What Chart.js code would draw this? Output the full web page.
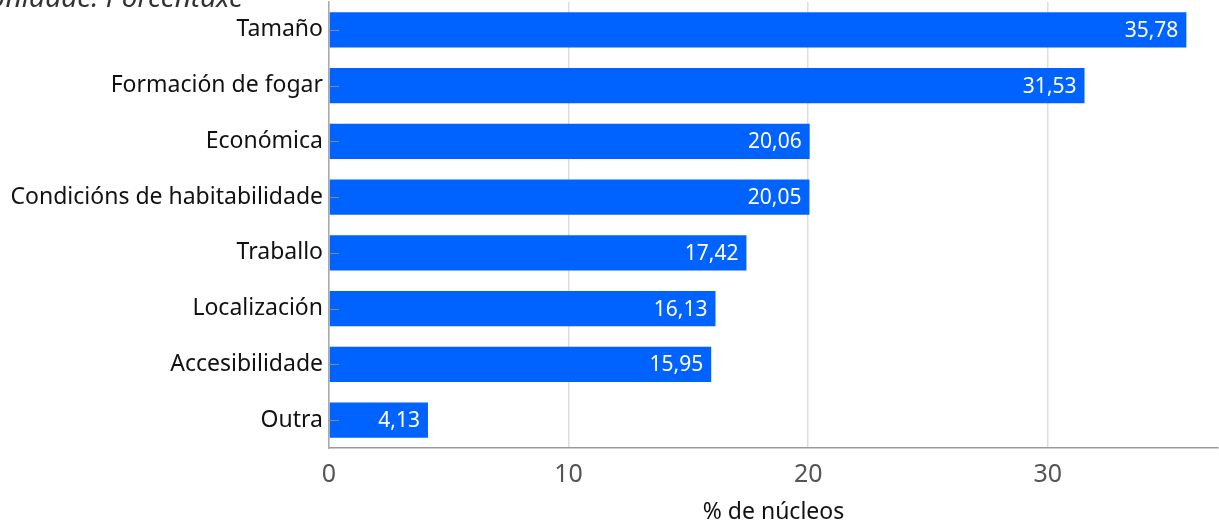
<!DOCTYPE html>
<html><head><meta charset="utf-8">
<script src="https://cdn.jsdelivr.net/npm/chart.js@4/dist/chart.umd.min.js"></script>
<style>html,body{margin:0;padding:0;background:#fff}#wrap{width:1219px;height:522px}</style>
</head><body><div id="wrap"><canvas id="c"></canvas></div>
<script>
const categories = ["Tamaño","Formación de fogar","Económica","Condicións de habitabilidade","Traballo","Localización","Accesibilidade","Outra"];
const values = [35.78,31.53,20.06,20.05,17.42,16.13,15.95,4.13];
const xTicks = [0,10,20,30];
const unitLabel = "Unidade: Porcentaxe";
const axisTitle = "% de núcleos";
const FONT = "'Noto Sans', sans-serif";

const extras = {
  id:'extras',
  afterDatasetsDraw(chart){
    const ctx = chart.ctx, meta = chart.getDatasetMeta(0);
    ctx.save();
    ctx.strokeStyle = '#8a8a8a'; ctx.lineWidth = 1;
    meta.data.forEach((bar)=>{
      const yy = Math.round(bar.y)+0.5;
      ctx.beginPath(); ctx.moveTo(chart.chartArea.left, yy); ctx.lineTo(chart.chartArea.left+10, yy); ctx.stroke();
    });
    ctx.fillStyle = '#fff'; ctx.font = '21px ' + FONT; ctx.textAlign = 'right'; ctx.textBaseline = 'middle';
    meta.data.forEach((bar,i)=>{
      ctx.fillText(values[i].toFixed(2).replace('.',','), bar.x - 8, bar.y + 1);
    });
    ctx.fillStyle = '#333'; ctx.font = 'italic 28px ' + FONT; ctx.textAlign = 'right'; ctx.textBaseline = 'alphabetic';
    ctx.fillText(unitLabel, 243, 7);
    ctx.restore();
  }
};

new Chart(document.getElementById('c'), {
  type:'bar',
  data:{labels:categories, datasets:[{data:values, backgroundColor:'#0062ff', barPercentage:0.63, categoryPercentage:1}]},
  options:{
    indexAxis:'y', responsive:true, maintainAspectRatio:false, animation:false,
    layout:{padding:{top:2,right:1,left:0,bottom:0}},
    plugins:{legend:{display:false}, tooltip:{enabled:false}},
    scales:{
      x:{min:0,max:37.1,
        afterBuildTicks(ax){ax.ticks = xTicks.map(v=>({value:v}));},
        afterFit(ax){ax.height = 74; ax.paddingLeft=0; ax.paddingRight=0; ax.paddingTop=0; ax.paddingBottom=0;},
        ticks:{font:{size:25,family:FONT},color:'#555',padding:12},
        grid:{color:'#dddddd',lineWidth:1.5,drawTicks:false},
        border:{color:'#999',width:1.5},
        title:{display:true,text:axisTitle,font:{size:23,family:FONT},color:'#111',padding:{top:11,bottom:-4}}
      },
      y:{
        afterFit(ax){ax.width = 329; ax.paddingTop=0; ax.paddingBottom=0; ax.paddingLeft=0; ax.paddingRight=0;},
        ticks:{font:{size:23,family:FONT},color:'#111',padding:6},
        grid:{display:false,drawTicks:false},
        border:{color:'#aaa',width:1.5}
      }
    }
  },
  plugins:[extras]
});
</script></body></html>
